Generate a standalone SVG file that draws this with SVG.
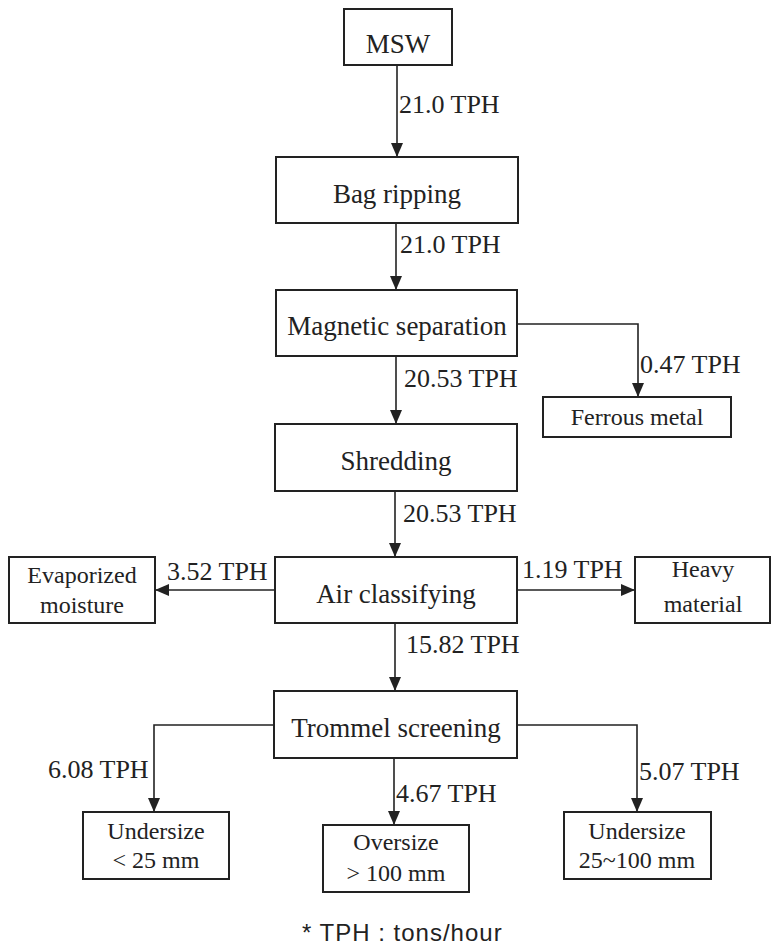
<svg xmlns="http://www.w3.org/2000/svg" width="775" height="947" viewBox="0 0 775 947">
<style>
.box{fill:#fff;stroke:#222;stroke-width:2}
.lbl{font-family:"Liberation Serif","Times New Roman",serif;font-size:26px;fill:#222}
.nt{font-family:"Liberation Serif","Times New Roman",serif;font-size:27px;fill:#222;text-anchor:middle}
.st{font-family:"Liberation Serif","Times New Roman",serif;font-size:24px;fill:#222;text-anchor:middle}
.ln{fill:none;stroke:#222;stroke-width:1.6}
.fn{font-family:"Liberation Sans",Arial,sans-serif;font-size:24px;fill:#222;letter-spacing:1px}
</style>
<defs>
<marker id="ah" markerUnits="userSpaceOnUse" markerWidth="14" markerHeight="12" refX="14" refY="6" orient="auto">
<path d="M0,0 L14,6 L0,12 z" fill="#222"/>
</marker>
</defs>
<rect width="775" height="947" fill="#fff"/>
<g id="connectors">
<path class="ln" d="M397,65 V157" marker-end="url(#ah)"/>
<path class="ln" d="M396,223 V290" marker-end="url(#ah)"/>
<path class="ln" d="M517,324 H638 V397" marker-end="url(#ah)"/>
<path class="ln" d="M396,356 V424" marker-end="url(#ah)"/>
<path class="ln" d="M395,491 V557" marker-end="url(#ah)"/>
<path class="ln" d="M275,590 H155" marker-end="url(#ah)"/>
<path class="ln" d="M517,590 H635" marker-end="url(#ah)"/>
<path class="ln" d="M395,623 V691" marker-end="url(#ah)"/>
<path class="ln" d="M274,725 H154 V812" marker-end="url(#ah)"/>
<path class="ln" d="M394,758 V825" marker-end="url(#ah)"/>
<path class="ln" d="M517,725 H637 V812" marker-end="url(#ah)"/>
<text class="lbl" x="399" y="113">21.0 TPH</text>
<text class="lbl" x="400" y="253">21.0 TPH</text>
<text class="lbl" x="640" y="373">0.47 TPH</text>
<text class="lbl" x="404" y="387">20.53 TPH</text>
<text class="lbl" x="403" y="522">20.53 TPH</text>
<text class="lbl" x="167" y="580">3.52 TPH</text>
<text class="lbl" x="522" y="578">1.19 TPH</text>
<text class="lbl" x="406" y="653">15.82 TPH</text>
<text class="lbl" x="48" y="778">6.08 TPH</text>
<text class="lbl" x="396" y="802">4.67 TPH</text>
<text class="lbl" x="639" y="780">5.07 TPH</text>
</g>
<g id="msw"><rect class="box" x="344" y="9" width="108" height="56"/><text class="nt" x="398" y="53">MSW</text></g>
<g id="bag-ripping"><rect class="box" x="276" y="157" width="242" height="66"/><text class="nt" x="397" y="203">Bag ripping</text></g>
<g id="magnetic-separation"><rect class="box" x="276" y="290" width="241" height="66"/><text class="nt" x="397" y="335">Magnetic separation</text></g>
<g id="ferrous-metal"><rect class="box" x="543" y="397" width="188" height="40"/><text class="st" x="637" y="425">Ferrous metal</text></g>
<g id="shredding"><rect class="box" x="275" y="424" width="242" height="67"/><text class="nt" x="396" y="470">Shredding</text></g>
<g id="air-classifying"><rect class="box" x="275" y="557" width="242" height="66"/><text class="nt" x="396" y="603">Air classifying</text></g>
<g id="evaporized-moisture"><rect class="box" x="9" y="557" width="146" height="66"/><text class="st" x="82" y="583">Evaporized</text><text class="st" x="82" y="613">moisture</text></g>
<g id="heavy-material"><rect class="box" x="635" y="557" width="135" height="66"/><text class="st" x="703" y="577">Heavy</text><text class="st" x="703" y="612">material</text></g>
<g id="trommel-screening"><rect class="box" x="274" y="691" width="243" height="67"/><text class="nt" x="396" y="737">Trommel screening</text></g>
<g id="undersize-25"><rect class="box" x="83" y="812" width="146" height="67"/><text class="st" x="156" y="839">Undersize</text><text class="st" x="156" y="868">&lt; 25 mm</text></g>
<g id="oversize-100"><rect class="box" x="323" y="825" width="146" height="67"/><text class="st" x="396" y="850">Oversize</text><text class="st" x="396" y="881">&gt; 100 mm</text></g>
<g id="undersize-25-100"><rect class="box" x="564" y="812" width="147" height="67"/><text class="st" x="637" y="839">Undersize</text><text class="st" x="637" y="868">25~100 mm</text></g>
<text class="fn" x="302" y="941">* TPH : tons/hour</text>
</svg>
